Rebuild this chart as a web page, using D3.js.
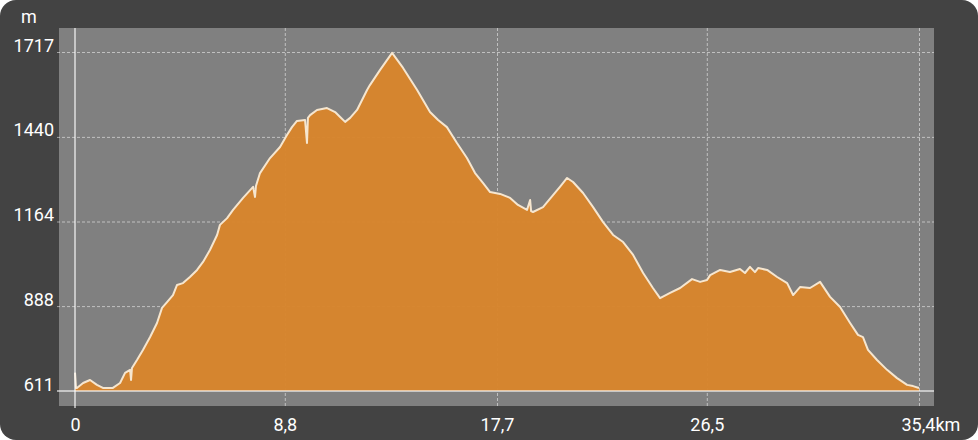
<!DOCTYPE html>
<html>
<head>
<meta charset="utf-8">
<script src="https://cdn.jsdelivr.net/npm/d3@7"></script>
<style>
  body { margin: 0; background: #fff; }
  text { font-family: Roboto, "Noto Sans", sans-serif; fill: #fff; }
</style>
</head>
<body>
<div id="chart"></div>
<script>
// Elevation profile: distance (km) and elevation (m)
var distKm = [0.00, 0.04, 0.08, 0.34, 0.63, 0.92, 1.17, 1.59, 1.89, 2.10, 2.31, 2.35, 2.39, 2.60, 2.85,
    3.15, 3.44, 3.65, 3.86, 4.11, 4.28, 4.53, 4.82, 5.12, 5.37, 5.66, 5.96, 6.08, 6.38, 6.63,
    7.05, 7.47, 7.55, 7.59, 7.76, 8.18, 8.60, 8.89, 9.10, 9.31, 9.65, 9.73, 9.77, 9.86, 10.15,
    10.57, 10.91, 11.12, 11.33, 11.54, 11.83, 12.25, 12.37, 12.79, 13.30, 13.76, 14.35, 14.89, 15.23,
    15.60, 16.02, 16.44, 16.78, 17.11, 17.41, 17.83, 18.25, 18.58, 18.96, 19.09, 19.13, 19.21, 19.63,
    20.05, 20.34, 20.64, 20.89, 21.31, 21.73, 22.15, 22.57, 22.99, 23.41, 23.83, 24.24, 24.54, 24.96,
    25.38, 25.88, 26.22, 26.51, 26.64, 27.06, 27.47, 27.89, 28.10, 28.31, 28.52, 28.65, 29.03, 29.45,
    29.87, 30.12, 30.41, 30.83, 31.25, 31.67, 32.09, 32.51, 32.84, 33.05, 33.26, 33.64, 34.06, 34.48,
    34.90, 35.15, 35.40];
var elevM = [671, 621, 621, 637, 647, 631, 621, 621, 637, 670, 680, 647, 686, 712, 745,
    787, 833, 882, 901, 924, 957, 963, 983, 1006, 1032, 1071, 1120, 1153, 1175, 1202,
    1241, 1277, 1244, 1280, 1322, 1371, 1407, 1446, 1472, 1492, 1495, 1420, 1502, 1511, 1528,
    1534, 1521, 1505, 1489, 1502, 1528, 1593, 1609, 1658, 1714, 1665, 1593, 1521, 1495,
    1472, 1420, 1371, 1322, 1290, 1260, 1254, 1241, 1218, 1202, 1234, 1198, 1195, 1211,
    1250, 1277, 1306, 1293, 1257, 1211, 1162, 1120, 1097, 1055, 996, 947, 914, 931,
    947, 976, 967, 973, 989, 1006, 999, 1009, 996, 1016, 999, 1012, 1006, 983,
    963, 924, 950, 947, 967, 918, 885, 833, 794, 787, 745, 712, 680, 653,
    631, 627, 621];

var xTicks = [0, 8.8, 17.7, 26.5, 35.4];
var yTicks = [611, 888, 1164, 1440, 1717];
var yUnit = "m";
var xUnit = "km";

var svgWidth = 978;
var svgHeight = 440;
var plot = { left: 59, right: 934, top: 28, bottom: 406 };

var svg = d3.select("#chart")
    .append("svg")
    .attr("width", svgWidth)
    .attr("height", svgHeight);

// Dark card background
svg.append("rect")
    .attr("width", svgWidth)
    .attr("height", svgHeight)
    .attr("rx", 16)
    .attr("fill", "#434343");

// Plot area
svg.append("rect")
    .attr("x", plot.left)
    .attr("y", plot.top)
    .attr("width", plot.right - plot.left)
    .attr("height", plot.bottom - plot.top)
    .attr("fill", "#808080");

var x = d3.scaleLinear().domain([0, 35.4]).range([75, 919]);
var y = d3.scaleLinear().domain([611, 1717]).range([391, 52]);

var profile = distKm.map(function(d, i) { return { km: d, m: elevM[i] }; });

// Horizontal grid + y labels
var yAxis = svg.append("g")
    .attr("transform", `translate(${plot.left}, 0)`)
    .call(d3.axisLeft(y)
        .tickValues(yTicks)
        .tickSizeInner(-(plot.right - plot.left))
        .tickSizeOuter(0)
        .tickPadding(5)
        .tickFormat(d3.format("d")));
yAxis.select(".domain").remove();
yAxis.selectAll("line")
    .attr("x1", -2)
    .attr("stroke", "rgba(255,255,255,0.5)")
    .attr("stroke-dasharray", "3,2")
    .filter(function(d) { return d === 611; })
    .remove();
yAxis.selectAll("text")
    .attr("dy", -1)
    .style("font-size", "18px")
    .style("fill", "#fff");

// Vertical grid + x labels
var xAxis = svg.append("g")
    .attr("transform", `translate(0, ${plot.bottom})`)
    .call(d3.axisBottom(x)
        .tickValues(xTicks)
        .tickSizeInner(-(plot.bottom - plot.top))
        .tickSizeOuter(0)
        .tickPadding(12)
        .tickFormat(function(d) { return String(d).replace(".", ","); }));
xAxis.select(".domain").remove();
xAxis.selectAll("line")
    .attr("stroke", "rgba(255,255,255,0.5)")
    .attr("stroke-dasharray", "3,2")
    .filter(function(d) { return d === 0; })
    .remove();
xAxis.selectAll("text")
    .style("font-size", "18px")
    .style("fill", "#fff");
xAxis.selectAll("text")
    .filter(function(d) { return d === 35.4; })
    .text(function(d) { return String(d).replace(".", ",") + xUnit; })
    .attr("text-anchor", "start")
    .attr("x", -18);

// Elevation area
var area = d3.area()
    .x(d => x(d.km))
    .y0(y(611))
    .y1(d => y(d.m));
var line = d3.line()
    .x(d => x(d.km))
    .y(d => y(d.m));

svg.append("path")
    .datum(profile)
    .attr("d", area)
    .attr("fill", "#d8852c")
    .attr("fill-opacity", 0.97);

svg.append("path")
    .datum(profile)
    .attr("d", line)
    .attr("fill", "none")
    .attr("stroke", "#f6e6cf")
    .attr("stroke-width", 2)
    .attr("stroke-linejoin", "round");

// Solid axis lines
svg.append("line")
    .attr("x1", plot.left - 2)
    .attr("x2", plot.right)
    .attr("y1", y(611))
    .attr("y2", y(611))
    .attr("stroke", "rgba(255,255,255,0.75)")
    .attr("stroke-width", 1.5);
svg.append("line")
    .attr("x1", x(0))
    .attr("x2", x(0))
    .attr("y1", plot.top)
    .attr("y2", plot.bottom + 2)
    .attr("stroke", "rgba(255,255,255,0.75)")
    .attr("stroke-width", 1.5);

// Unit label
svg.append("text")
    .attr("x", 21)
    .attr("y", 23)
    .style("font-size", "18px")
    .text(yUnit);
</script>
</body>
</html>
